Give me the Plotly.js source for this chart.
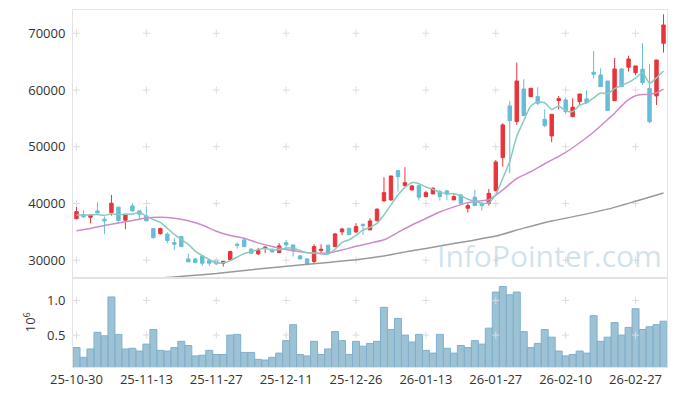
<!DOCTYPE html>
<html><head><meta charset="utf-8">
<script src="https://cdn.plot.ly/plotly-3.0.1.min.js"></script>
<style>html,body{margin:0;padding:0;background:#fff}#chart{width:677px;height:396px}</style>
</head><body><div id="chart"></div>
<script>
const dates = ["25-10-30","25-10-31","25-11-03","25-11-04","25-11-05","25-11-06","25-11-07","25-11-10","25-11-11","25-11-12",
"25-11-13","25-11-14","25-11-17","25-11-18","25-11-19","25-11-20","25-11-21","25-11-24","25-11-25","25-11-26",
"25-11-27","25-11-28","25-12-01","25-12-02","25-12-03","25-12-04","25-12-05","25-12-08","25-12-09","25-12-10",
"25-12-11","25-12-12","25-12-15","25-12-16","25-12-17","25-12-18","25-12-19","25-12-22","25-12-23","25-12-24",
"25-12-26","25-12-29","25-12-30","26-01-02","26-01-05","26-01-06","26-01-07","26-01-08","26-01-09","26-01-12",
"26-01-13","26-01-14","26-01-15","26-01-16","26-01-19","26-01-20","26-01-21","26-01-22","26-01-23","26-01-26",
"26-01-27","26-01-28","26-01-29","26-01-30","26-02-02","26-02-03","26-02-04","26-02-05","26-02-06","26-02-09",
"26-02-10","26-02-11","26-02-12","26-02-13","26-02-19","26-02-20","26-02-23","26-02-24","26-02-25","26-02-26",
"26-02-27","26-03-03","26-03-04","26-03-05","26-03-06"];

const openP = [37330,38030,37580,38690,37220,38390,39340,37050,39570,38690,
37800,35570,34690,34600,33100,34160,30230,30230,30760,29930,
30050,29470,30050,32820,33580,31940,31110,32060,31940,31340,
33100,32700,30760,30230,29760,31700,32640,32400,34990,35640,
34990,36340,35340,36980,40450,40620,45790,43140,42390,43140,
41210,41680,42090,42210,40630,41500,39160,41100,40040,40040,
42270,48080,57190,54430,60180,58830,58830,54840,51900,58120,
58250,55300,57950,58420,63130,62660,61590,58120,63710,64010,
63060,63660,60300,58950,68240];
const highP = [39390,38740,37980,40220,37680,41500,39460,38150,40040,38750,
39460,35600,35740,34900,33880,34280,31110,30350,30760,30050,
30050,29820,31690,33100,33880,32110,32170,32520,32050,33000,
33580,32700,30930,30350,32820,32820,32750,34760,35690,35640,
36520,36340,37400,39160,44620,44850,45910,46390,43270,43270,
42210,42860,42390,42390,41630,41680,40040,42390,40220,42560,
47670,54140,58070,64820,61890,60300,60480,56610,55720,58950,
58720,58540,59300,60000,66880,63830,61590,65640,63830,66050,
64240,68240,64590,65290,73340];
const lowP = [37150,37400,36520,38210,34580,37860,36520,35460,38560,37220,
36930,33800,34510,33000,31810,32290,29700,29470,29000,29000,
29170,28880,29880,32050,32290,31110,30930,31230,31340,31340,
32050,30640,30180,29350,29470,31230,31230,32290,34410,34460,
34760,34460,35340,36800,40330,40500,42090,42970,42270,40500,
41100,41680,40500,40630,40630,39920,38390,39620,38740,39620,
42090,46490,45320,53840,55480,58720,57360,53430,50790,56610,
55780,55200,57360,57660,62070,60590,56370,58120,60480,63240,
62600,60890,54140,57360,66600];
const closeP = [38560,37650,37980,38330,36920,40040,37000,38100,38690,38100,
36930,33990,35570,33460,32820,32400,29700,29580,29470,29470,
29350,29820,31520,32640,32400,31230,31690,32290,31460,32520,
32700,31640,30230,29350,32400,31940,31340,34630,35510,34510,
35920,36100,36920,38990,41910,44850,44730,43670,43090,41100,
41910,42690,41210,41630,41210,40040,39620,39620,39620,41790,
47320,53840,54600,61590,55480,60300,57660,53720,55720,58480,
56180,56960,59300,57770,62770,60590,56370,63710,60590,65470,
64240,61300,54420,65290,71460];
// volume, in units of 10^6
const volume = [0.32,0.18,0.30,0.54,0.49,1.05,0.51,0.30,0.31,0.27,
0.37,0.58,0.28,0.27,0.32,0.41,0.35,0.20,0.21,0.28,
0.22,0.22,0.50,0.51,0.25,0.25,0.15,0.14,0.18,0.24,
0.42,0.65,0.22,0.20,0.41,0.22,0.30,0.55,0.42,0.22,
0.41,0.34,0.38,0.41,0.90,0.58,0.74,0.50,0.40,0.51,
0.28,0.24,0.51,0.31,0.24,0.35,0.32,0.42,0.37,0.60,
1.12,1.20,1.08,1.12,0.55,0.32,0.38,0.58,0.47,0.27,
0.20,0.22,0.27,0.24,0.78,0.41,0.47,0.68,0.50,0.61,
0.88,0.58,0.62,0.65,0.70];
// 5-day moving average (teal)
const ma5 = [37980,37980,37950,38050,37890,38180,38050,38080,38150,38390,
37760,37160,36660,35610,34550,33650,32790,31590,30790,30120,
29510,29540,29930,30560,31150,31520,31900,32050,31810,31840,
32130,32120,31710,31290,31260,31110,31050,31930,33160,33590,
34380,35330,35790,36490,37970,39750,41480,42830,43650,43490,
42900,42490,42000,41710,41730,41360,40740,40420,40020,40140,
41590,44440,47430,51830,54570,57160,57930,57750,56580,57180,
56350,56210,57330,57740,58600,59480,59360,60240,60810,61350,
62080,63060,61200,62140,63340];
// 20-day moving average (pink), read at these trading-day positions
const ma20Pos = [0,2,4,6,8,10,12,14,16,18,20,22,24,26,28,30,32,34,36,38,40,42,44,46,48,50,52,54,56,58,59,61,63,65,67,69,70,72,74,76,77,78,79,80,81,82,83,84];
const ma20 = [35200,35600,36100,36550,37000,37450,37550,37400,36950,36200,35100,34350,33850,33050,32400,31900,31500,31250,31250,31800,32450,33000,33600,34900,36200,37350,38500,39400,40150,40500,40650,42400,44400,45600,47000,48300,49000,50700,52600,54800,55900,57200,58300,59000,59200,59250,59500,60150];
// long moving average (gray)
const maLongPos = [8,12,16,20,26,32,36,40,44,48,52,56,60,64,68,72,76,80,84];
const maLong = [26300,26850,27250,27650,28450,29150,29600,30100,30750,31650,32500,33350,34250,35650,36900,37900,39000,40400,41850];

const priceTicks = [30000,40000,50000,60000,70000];
const volTicks = [0.5,1.0];
const xTickPos = [0,10,20,30,40,50,60,70,80];

const pick = (pos) => pos.map(i => dates[i]);
const xTicks = pick(xTickPos);

const UP = '#e8343b', DOWN = '#66bdd6';

// grid crosses at tick intersections
const gx = [], gy = [], vx = [], vy = [];
xTicks.forEach(d => { priceTicks.forEach(v => { gx.push(d); gy.push(v); }); volTicks.forEach(v => { vx.push(d); vy.push(v); }); });

const crossMarker = {symbol:'cross-thin', size:5, line:{color:'#dcdcdc', width:1}};
const traces = [
  {type:'scatter', mode:'markers', x:gx, y:gy, xaxis:'x', yaxis:'y', hoverinfo:'skip', marker:crossMarker},
  {type:'scatter', mode:'markers', x:vx, y:vy, xaxis:'x2', yaxis:'y2', hoverinfo:'skip', marker:crossMarker},
  {type:'candlestick', x:dates, open:openP, high:highP, low:lowP, close:closeP, xaxis:'x', yaxis:'y',
   whiskerwidth:0,
   increasing:{line:{color:UP, width:1}, fillcolor:UP},
   decreasing:{line:{color:DOWN, width:1}, fillcolor:DOWN}, hoverinfo:'skip'},
  {type:'scatter', mode:'lines', x:pick(maLongPos), y:maLong, xaxis:'x', yaxis:'y',
   line:{color:'#999999', width:1.5, shape:'spline', smoothing:0.6}, hoverinfo:'skip'},
  {type:'scatter', mode:'lines', x:pick(ma20Pos), y:ma20, xaxis:'x', yaxis:'y',
   line:{color:'#cc8ccb', width:1.5, shape:'spline', smoothing:0.6}, hoverinfo:'skip'},
  {type:'scatter', mode:'lines', x:dates, y:ma5, xaxis:'x', yaxis:'y',
   line:{color:'#86cbbf', width:1.5, shape:'spline', smoothing:0.6}, hoverinfo:'skip'},
  {type:'bar', x:dates, y:volume, xaxis:'x2', yaxis:'y2',
   marker:{color:'rgba(130,177,200,0.78)', line:{color:'#80b0cf', width:1}}, hoverinfo:'skip'}
];

const axisFont = {family:'"Open Sans", sans-serif', size:13, color:'#333'};
const frame = {showline:true, mirror:true, linecolor:'#e3e3e3', linewidth:1, showgrid:false, zeroline:false};
const catAxis = {type:'category', categoryorder:'array', categoryarray:dates, range:[-0.5,84.5]};

const layout = {
  width:677, height:396,
  margin:{l:73, r:10, t:10, b:29},
  paper_bgcolor:'#fff', plot_bgcolor:'#fff',
  showlegend:false, bargap:0, boxgap:0.3,
  font:axisFont,
  xaxis:Object.assign({}, frame, catAxis, {anchor:'y', domain:[0,1],
     showticklabels:false, ticks:'', rangeslider:{visible:false}}),
  xaxis2:Object.assign({}, frame, catAxis, {anchor:'y2', domain:[0,1],
     tickmode:'array', tickvals:xTicks, ticktext:xTicks, ticks:'', tickangle:0, tickfont:axisFont}),
  yaxis:Object.assign({}, frame, {domain:[0.2507,1], range:[26950,74100], tickmode:'array', tickvals:priceTicks,
     ticktext:priceTicks.map(String), ticks:'outside', ticklen:4, tickcolor:'rgba(0,0,0,0)', tickfont:axisFont}),
  yaxis2:Object.assign({}, frame, {domain:[0,0.2507], range:[0.04,1.33], tickmode:'array', tickvals:volTicks,
     ticktext:volTicks.map(v=>v.toFixed(1)), ticks:'outside', ticklen:4, tickcolor:'rgba(0,0,0,0)', tickfont:axisFont,
     title:{text:'10<sup>6</sup>', font:axisFont, standoff:8}}),
  annotations:[{text:'InfoPointer.com', xref:'paper', yref:'paper', x:0.803, y:0.311, showarrow:false,
     xanchor:'center', yanchor:'middle', font:{family:'"Open Sans", sans-serif', size:30, color:'rgba(165,198,215,0.5)'}}]
};

Plotly.newPlot('chart', traces, layout, {staticPlot:true, displayModeBar:false});
</script></body></html>
